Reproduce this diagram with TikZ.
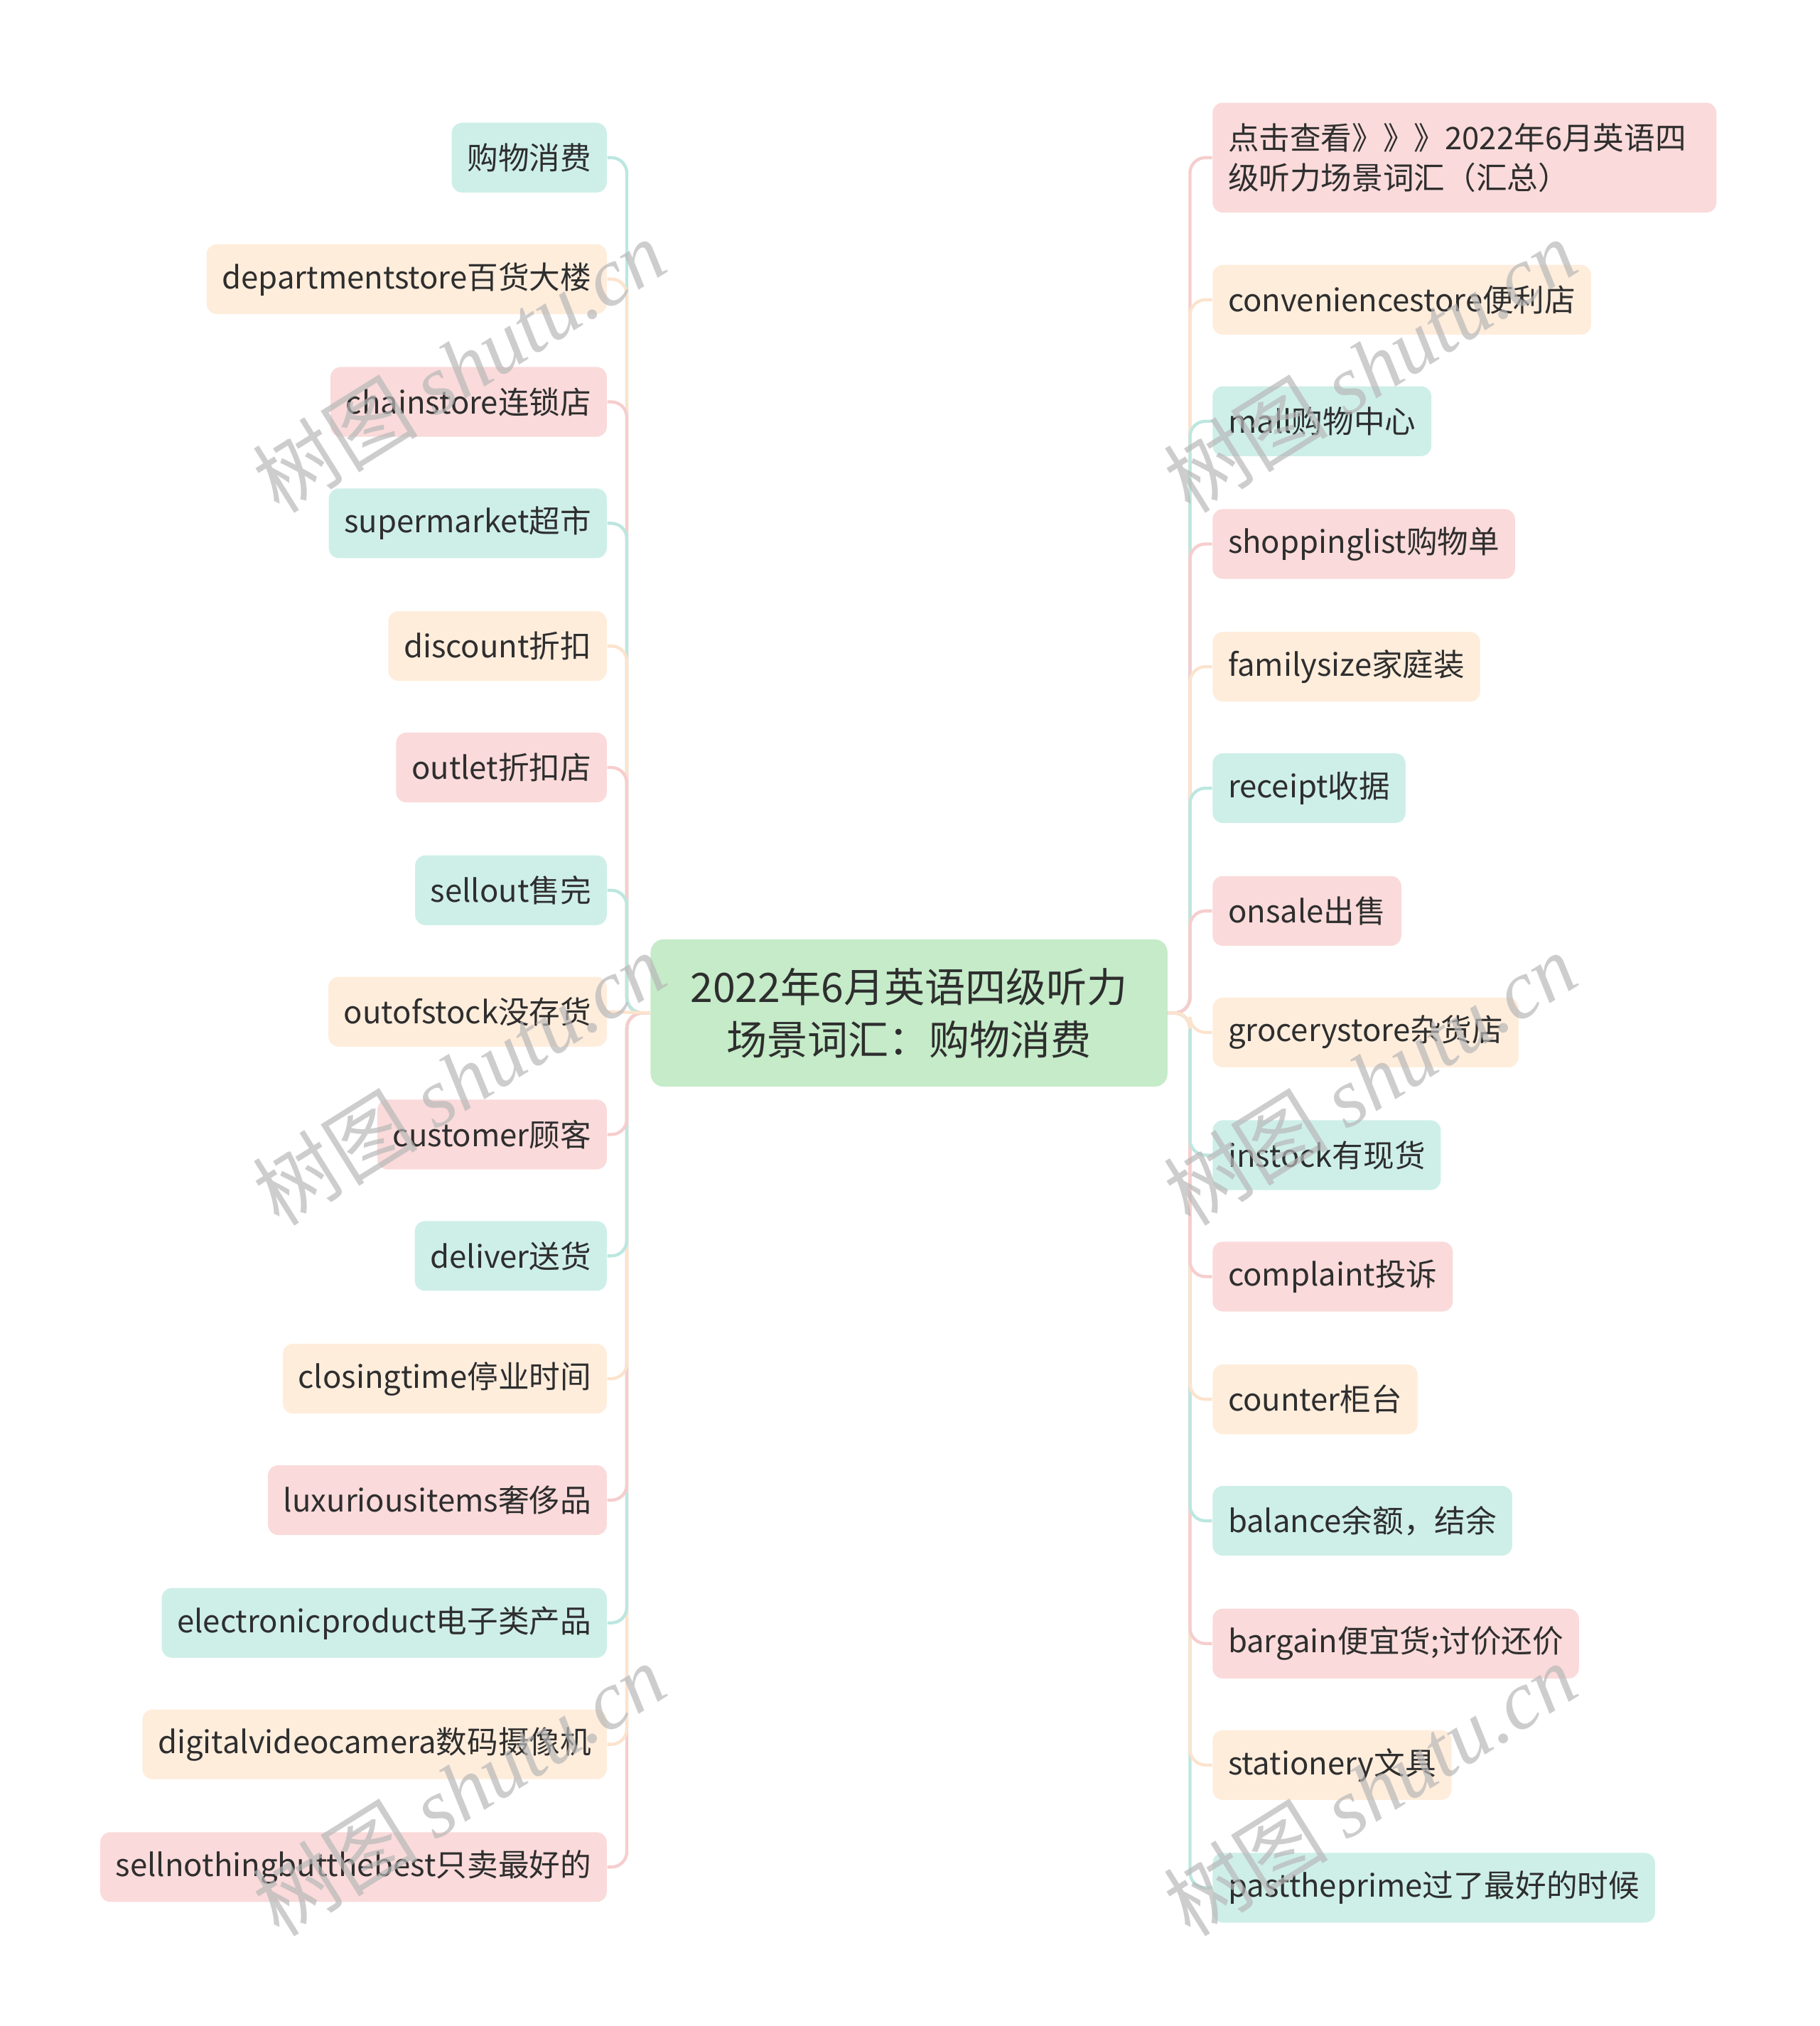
\documentclass[tikz,border=0pt]{standalone}
\usepackage{fontspec}
\setmainfont{Noto Sans CJK SC}
\newfontfamily\wmlatin{Liberation Serif}
\usepackage{tikz}
\usetikzlibrary{positioning}
\definecolor{inkgray}{HTML}{2E2E2E}
\definecolor{leafteal}{HTML}{CEEFE8}
\definecolor{leafpeach}{HTML}{FFEDDC}
\definecolor{leafpink}{HTML}{FADADA}
\definecolor{rootgreen}{HTML}{C5EBC8}
\definecolor{lineteal}{HTML}{BCE7E0}
\definecolor{linepeach}{HTML}{FCE3CD}
\definecolor{linepink}{HTML}{F6CDCD}

\tikzset{
  leaf/.style={rounded corners=4pt, minimum height=27pt, inner xsep=6pt, text=inkgray,
    font=\fontsize{12pt}{15.5pt}\selectfont},
  tealleaf/.style={leaf, fill=leafteal},
  peachleaf/.style={leaf, fill=leafpeach},
  pinkleaf/.style={leaf, fill=leafpink},
  rootbox/.style={rounded corners=5pt, fill=rootgreen, minimum width=200pt, minimum height=57pt,
    align=center, text=inkgray, font=\fontsize{15.7pt}{20.5pt}\selectfont},
  link/.style={line width=1.2pt, rounded corners=6pt},
  watermark/.style={rotate=32, text=black!28, opacity=0.7, font=\fontsize{32pt}{36pt}\selectfont}
}

\begin{document}
\begin{tikzpicture}[x=0.5pt, y=-0.5pt]
    \useasboundingbox (0,0) rectangle (1408,1568);

    % Root
    \node[rootbox] (root) at (703.5,784) {2022年6月英语四级听力\\场景词汇：购物消费};

    % Left Branch
    \node[tealleaf, anchor=east] (L1) at (470,122) {购物消费};
    \node[peachleaf, anchor=east] (L2) at (470,216) {departmentstore百货大楼};
    \node[pinkleaf, anchor=east] (L3) at (470,311) {chainstore连锁店};
    \node[tealleaf, anchor=east] (L4) at (470,405) {supermarket超市};
    \node[peachleaf, anchor=east] (L5) at (470,500) {discount折扣};
    \node[pinkleaf, anchor=east] (L6) at (470,594) {outlet折扣店};
    \node[tealleaf, anchor=east] (L7) at (470,689) {sellout售完};
    \node[peachleaf, anchor=east] (L8) at (470,783) {outofstock没存货};
    \node[pinkleaf, anchor=east] (L9) at (470,878) {customer顾客};
    \node[tealleaf, anchor=east] (L10) at (470,972) {deliver送货};
    \node[peachleaf, anchor=east] (L11) at (470,1067) {closingtime停业时间};
    \node[pinkleaf, anchor=east] (L12) at (470,1161) {luxuriousitems奢侈品};
    \node[tealleaf, anchor=east] (L13) at (470,1256) {electronicproduct电子类产品};
    \node[peachleaf, anchor=east] (L14) at (470,1350) {digitalvideocamera数码摄像机};
    \node[pinkleaf, anchor=east] (L15) at (470,1445) {sellnothingbutthebest只卖最好的};

    % Right Branch
    \node[pinkleaf, anchor=west, align=left, text width=183pt, minimum height=42.5pt] (R1) at (938,122)
        {点击查看》》》2022年6月英语四\\级听力场景词汇（汇总）};
    \node[peachleaf, anchor=west] (R2) at (938,232) {conveniencestore便利店};
    \node[tealleaf, anchor=west] (R3) at (938,326) {mall购物中心};
    \node[pinkleaf, anchor=west] (R4) at (938,421) {shoppinglist购物单};
    \node[peachleaf, anchor=west] (R5) at (938,516) {familysize家庭装};
    \node[tealleaf, anchor=west] (R6) at (938,610) {receipt收据};
    \node[pinkleaf, anchor=west] (R7) at (938,705) {onsale出售};
    \node[peachleaf, anchor=west] (R8) at (938,799) {grocerystore杂货店};
    \node[tealleaf, anchor=west] (R9) at (938,894) {instock有现货};
    \node[pinkleaf, anchor=west] (R10) at (938,988) {complaint投诉};
    \node[peachleaf, anchor=west] (R11) at (938,1083) {counter柜台};
    \node[tealleaf, anchor=west] (R12) at (938,1177) {balance余额，结余};
    \node[pinkleaf, anchor=west] (R13) at (938,1272) {bargain便宜货;讨价还价};
    \node[peachleaf, anchor=west] (R14) at (938,1366) {stationery文具};
    \node[tealleaf, anchor=west] (R15) at (938,1461) {pasttheprime过了最好的时候};

    % Left links, outer ones first
    \draw[link, lineteal] (root.west) -- ++(-18,0) |- (L1.east);
    \draw[link, linepink] (root.west) -- ++(-18,0) |- (L15.east);
    \draw[link, linepeach] (root.west) -- ++(-18,0) |- (L2.east);
    \draw[link, linepeach] (root.west) -- ++(-18,0) |- (L14.east);
    \draw[link, linepink] (root.west) -- ++(-18,0) |- (L3.east);
    \draw[link, lineteal] (root.west) -- ++(-18,0) |- (L13.east);
    \draw[link, lineteal] (root.west) -- ++(-18,0) |- (L4.east);
    \draw[link, linepink] (root.west) -- ++(-18,0) |- (L12.east);
    \draw[link, linepeach] (root.west) -- ++(-18,0) |- (L5.east);
    \draw[link, linepeach] (root.west) -- ++(-18,0) |- (L11.east);
    \draw[link, linepink] (root.west) -- ++(-18,0) |- (L6.east);
    \draw[link, lineteal] (root.west) -- ++(-18,0) |- (L10.east);
    \draw[link, lineteal] (root.west) -- ++(-18,0) |- (L7.east);
    \draw[link, linepink] (root.west) -- ++(-18,0) |- (L9.east);
    \draw[link, linepeach] (root.west) -- (L8.east);

    % Right links, outer ones first
    \draw[link, lineteal] (root.east) -- ++(17,0) |- (R15.west);
    \draw[link, linepink] (root.east) -- ++(17,0) |- (R1.west);
    \draw[link, linepeach] (root.east) -- ++(17,0) |- (R14.west);
    \draw[link, linepeach] (root.east) -- ++(17,0) |- (R2.west);
    \draw[link, linepink] (root.east) -- ++(17,0) |- (R13.west);
    \draw[link, lineteal] (root.east) -- ++(17,0) |- (R3.west);
    \draw[link, lineteal] (root.east) -- ++(17,0) |- (R12.west);
    \draw[link, linepink] (root.east) -- ++(17,0) |- (R4.west);
    \draw[link, linepeach] (root.east) -- ++(17,0) |- (R11.west);
    \draw[link, linepeach] (root.east) -- ++(17,0) |- (R5.west);
    \draw[link, linepink] (root.east) -- ++(17,0) |- (R10.west);
    \draw[link, lineteal] (root.east) -- ++(17,0) |- (R6.west);
    \draw[link, lineteal] (root.east) -- ++(17,0) |- (R9.west);
    \draw[link, linepink] (root.east) -- ++(17,0) |- (R7.west);
    \draw[link, linepeach] (root.east) -- ++(17,0) |- (R8.west);

    % Watermarks
    \node[watermark] (wm1) at (355,283) {树图 {\wmlatin\itshape shutu.cn}};
    \node[watermark] (wm2) at (355,835) {树图 {\wmlatin\itshape shutu.cn}};
    \node[watermark] (wm3) at (355,1385) {树图 {\wmlatin\itshape shutu.cn}};
    \node[watermark] (wm4) at (1060,283) {树图 {\wmlatin\itshape shutu.cn}};
    \node[watermark] (wm5) at (1060,835) {树图 {\wmlatin\itshape shutu.cn}};
    \node[watermark] (wm6) at (1060,1385) {树图 {\wmlatin\itshape shutu.cn}};
\end{tikzpicture}
\end{document}
